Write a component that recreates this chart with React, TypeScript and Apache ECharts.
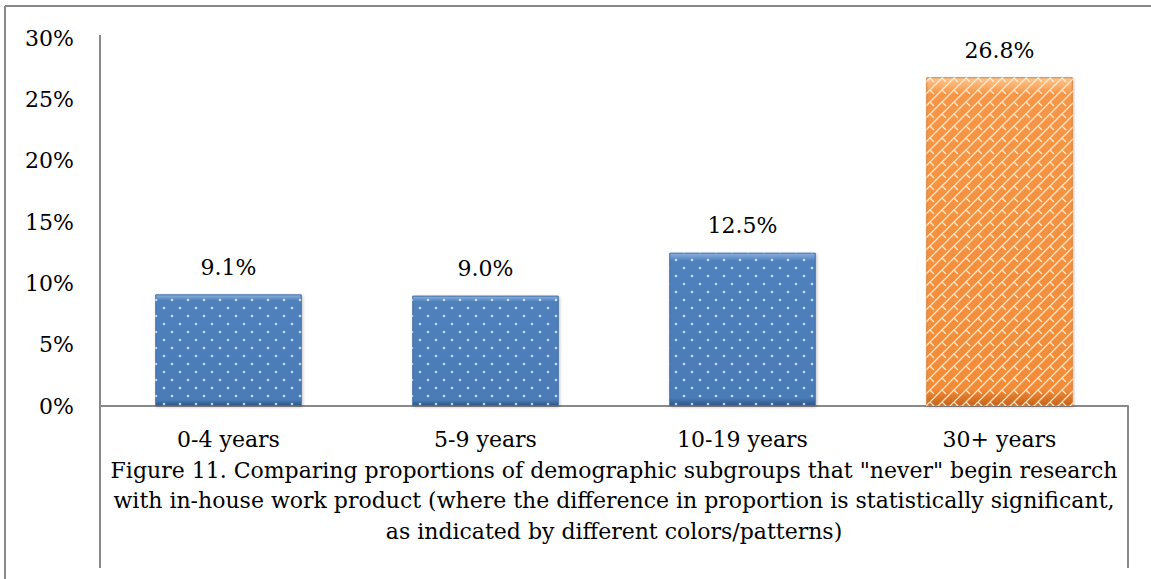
import React, { useEffect, useRef } from "react";
import * as echarts from "echarts";

const categories = ["0-4 years", "5-9 years", "10-19 years", "30+ years"];
const values = [9.1, 9.0, 12.5, 26.8];
const groups = ["blue", "blue", "blue", "orange"];
const yTicks = [0, 5, 10, 15, 20, 25, 30];
const captionLines = [
  'Figure 11. Comparing proportions of demographic subgroups that "never" begin research',
  "with in-house work product (where the difference in proportion is statistically significant,",
  "as indicated by different colors/patterns)",
];

const FONT = "'DejaVu Serif', serif";
const FS = 22;

function dotPattern(): HTMLCanvasElement {
  const c = document.createElement("canvas");
  c.width = 16;
  c.height = 16;
  const ctx = c.getContext("2d")!;
  ctx.fillStyle = "rgba(255,255,255,0.7)";
  [[4, 4], [12, 12]].forEach(([x, y]) => {
    ctx.beginPath();
    ctx.arc(x, y, 1.3, 0, Math.PI * 2);
    ctx.fill();
  });
  return c;
}

function latticePattern(): HTMLCanvasElement {
  const c = document.createElement("canvas");
  c.width = 12;
  c.height = 12;
  const ctx = c.getContext("2d")!;
  ctx.strokeStyle = "rgba(255,245,225,0.85)";
  ctx.lineWidth = 1.3;
  ctx.beginPath();
  ctx.moveTo(-2, 14);
  ctx.lineTo(14, -2);
  ctx.moveTo(-2, 2);
  ctx.lineTo(2, -2);
  ctx.moveTo(10, 14);
  ctx.lineTo(14, 10);
  ctx.moveTo(6, 6);
  ctx.lineTo(10, 10);
  ctx.stroke();
  return c;
}

function gradient(kind: string) {
  const stops =
    kind === "blue"
      ? ["#8cb0de", "#4f81bd", "#4a7bb7", "#2c5687"]
      : ["#fcc690", "#f79646", "#f28c38", "#c8641a"];
  return new echarts.graphic.LinearGradient(0, 0, 0, 1, [
    { offset: 0, color: stops[0] },
    { offset: 0.05, color: stops[1] },
    { offset: 0.95, color: stops[2] },
    { offset: 1, color: stops[3] },
  ]);
}

export default function App() {
  const ref = useRef<HTMLDivElement>(null);
  useEffect(() => {
    document.body.style.margin = "0";
    const chart = echarts.init(ref.current!, null, { renderer: "svg" });
    const dots = dotPattern();
    const lattice = latticePattern();
    const lineStyle = { stroke: "#898989", lineWidth: 2 };
    chart.setOption({
      animation: false,
      backgroundColor: "#ffffff",
      grid: { left: 100, right: 23, top: 38, bottom: 173 },
      xAxis: {
        type: "category",
        data: categories,
        axisLine: { show: true, lineStyle: { color: "#898989", width: 2 } },
        axisTick: { show: false },
        axisLabel: { fontFamily: FONT, fontSize: FS, color: "#000", margin: 22 },
      },
      yAxis: {
        type: "value",
        min: yTicks[0],
        max: yTicks[yTicks.length - 1],
        interval: 5,
        axisLine: { show: false },
        axisTick: { show: false },
        splitLine: { show: false },
        axisLabel: {
          fontFamily: FONT,
          fontSize: FS,
          color: "#000",
          margin: 26,
          formatter: (v: number) => v + "%",
        },
      },
      series: [
        {
          type: "bar",
          barWidth: "57%",
          barGap: "-100%",
          data: values.map((v, i) => ({
            value: v,
            itemStyle: {
              color: gradient(groups[i]),
              borderColor: groups[i] === "blue" ? "#3d6ca6" : "#e07b2c",
              borderWidth: 1,
              shadowColor: "rgba(0,0,0,0.25)",
              shadowBlur: 3,
              shadowOffsetX: 1,
              shadowOffsetY: 1,
            },
          })),
          label: {
            show: true,
            position: "top",
            distance: 16,
            fontFamily: FONT,
            fontSize: FS,
            color: "#000",
            formatter: (p: any) => p.value.toFixed(1) + "%",
          },
        },
        {
          type: "bar",
          barWidth: "57%",
          barGap: "-100%",
          silent: true,
          data: values.map((v, i) => ({
            value: v,
            itemStyle: {
              color: {
                image: groups[i] === "blue" ? dots : lattice,
                repeat: "repeat",
              },
            },
          })),
        },
      ],
      graphic: [
        { type: "line", shape: { x1: 5, y1: 6, x2: 1151, y2: 6 }, style: lineStyle },
        { type: "line", shape: { x1: 5, y1: 6, x2: 5, y2: 579 }, style: lineStyle },
        { type: "line", shape: { x1: 100, y1: 35, x2: 100, y2: 568 }, style: lineStyle },
        { type: "line", shape: { x1: 1128, y1: 406, x2: 1128, y2: 568 }, style: lineStyle },
        ...captionLines.map((t, i) => ({
          type: "text",
          x: 614,
          y: 470 + i * 30.5,
          style: {
            text: t,
            fontFamily: FONT,
            fontSize: FS,
            fill: "#000",
            textAlign: "center",
            textVerticalAlign: "middle",
          },
        })),
      ],
    });
    return () => chart.dispose();
  }, []);
  return <div ref={ref} style={{ width: 1151, height: 579 }} />;
}
